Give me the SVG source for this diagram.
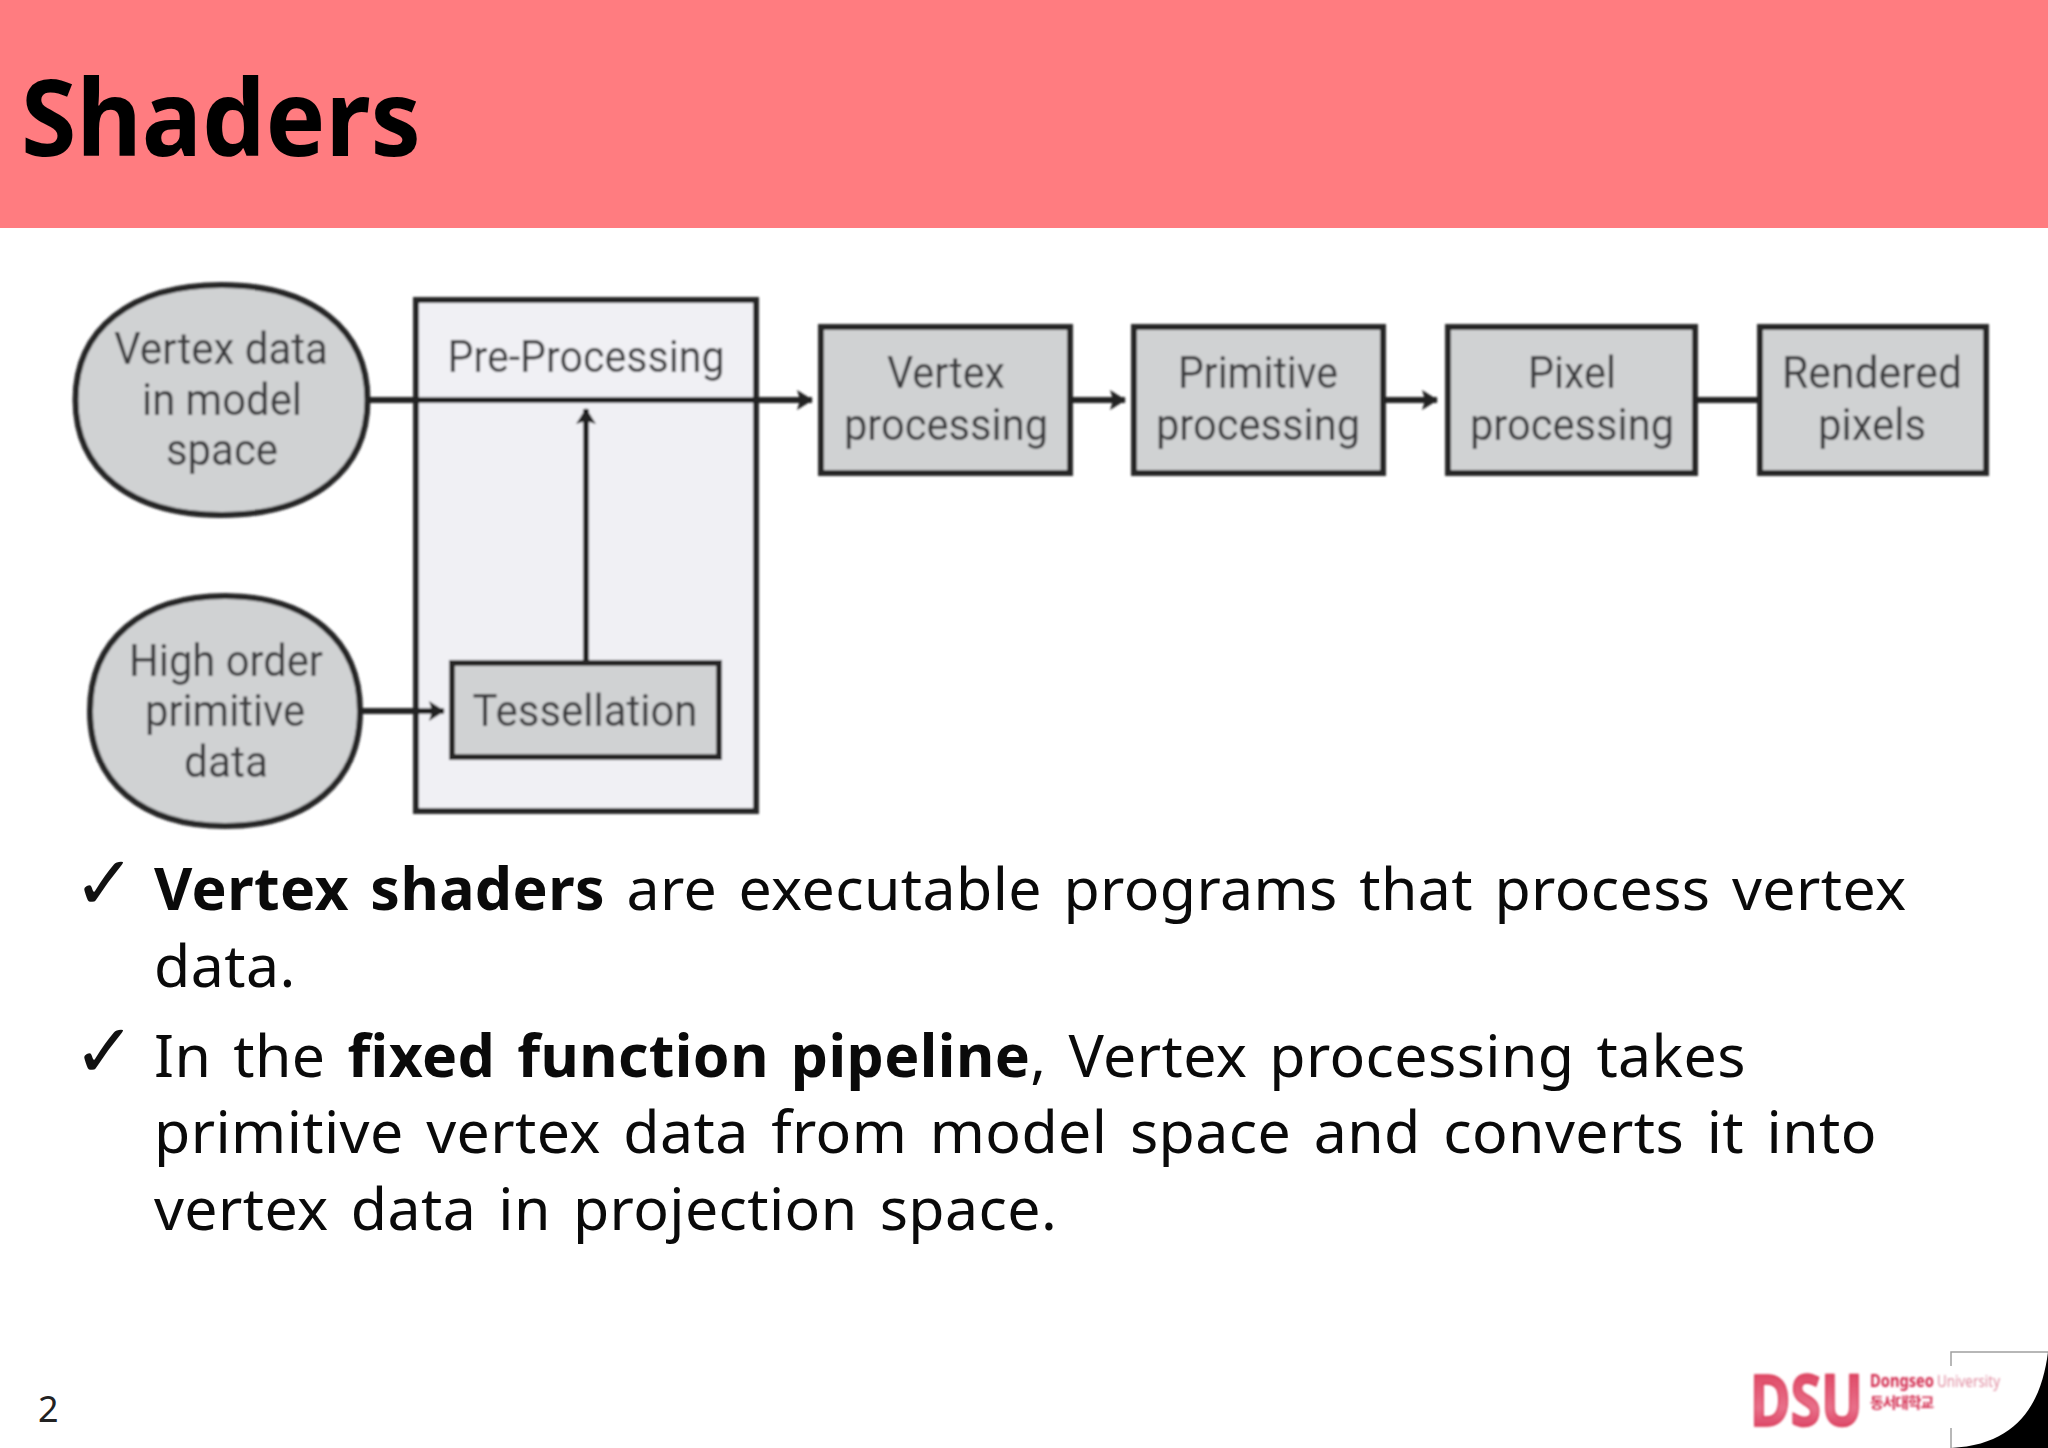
<svg xmlns="http://www.w3.org/2000/svg" width="2048" height="1448" viewBox="0 0 2048 1448">
<defs>
<style>
.shape{stroke:#262628;stroke-width:6;fill:#d0d2d3}
.lbl{font-family:Roboto,"Liberation Sans",sans-serif;font-size:45px;fill:#3a3a3c;text-anchor:middle}
.body{font-family:"Noto Sans","Noto Sans CJK KR",sans-serif;font-size:59px;fill:#0a0a0a;word-spacing:5.7px;letter-spacing:.4px}
.body .b{font-weight:700}
.chk{font-family:"DejaVu Sans",sans-serif;font-size:75px;fill:#111}
.conn{stroke:#222;stroke-width:6;fill:none}
</style>
<marker id="arrow" markerUnits="userSpaceOnUse" markerWidth="16" markerHeight="20" refX="15" refY="10" orient="auto"><path d="M0 0L16 10L0 20L3 10Z" fill="#222"/></marker>
<filter id="soft" x="-2%" y="-2%" width="104%" height="104%"><feGaussianBlur stdDeviation="0.8"/></filter>
<linearGradient id="dsu" x1="0" y1="0" x2="0" y2="1"><stop offset="0" stop-color="#d9304f"/><stop offset="0.6" stop-color="#e8708a"/><stop offset="1" stop-color="#d21e45"/></linearGradient>
</defs>
<rect width="2048" height="1448" fill="#fff"/>
<g id="header"><rect width="2048" height="228" fill="#ff7c80"/>
<text x="21" y="156" font-family="'Noto Sans','Noto Sans CJK KR',sans-serif" font-weight="700" font-size="106" fill="#000" textLength="400" lengthAdjust="spacingAndGlyphs">Shaders</text></g>
<g filter="url(#soft)">
<g id="pre-processing"><rect x="416" y="300" width="340" height="511" fill="#f0f0f4" stroke="#262628" stroke-width="6"/>
<text class="lbl" x="586" y="372" textLength="277" lengthAdjust="spacingAndGlyphs">Pre-Processing</text></g>
<g id="vertex-data"><path class="shape" d="M221.5 285C312 285 367.5 329 367.5 400C367.5 471 312 515 221.5 515C131 515 75.500 471 75.500 400C75.500 329 131 285 221.500 285Z"/>
<text class="lbl" x="221" y="364" textLength="214" lengthAdjust="spacingAndGlyphs">Vertex data</text>
<text class="lbl" x="222" y="415" textLength="160" lengthAdjust="spacingAndGlyphs">in model</text>
<text class="lbl" x="222" y="465" textLength="112" lengthAdjust="spacingAndGlyphs">space</text></g>
<g id="high-order"><path class="shape" d="M225 596C308 596 360 640 360 711C360 782 308 826 225 826C142 826 90 782 90 711C90 640 142 596 225 596Z"/>
<text class="lbl" x="226" y="676" textLength="194" lengthAdjust="spacingAndGlyphs">High order</text>
<text class="lbl" x="225" y="726" textLength="160" lengthAdjust="spacingAndGlyphs">primitive</text>
<text class="lbl" x="226" y="777" textLength="84" lengthAdjust="spacingAndGlyphs">data</text></g>
<g id="tessellation"><rect class="shape" x="452" y="663" width="267" height="94"/>
<text class="lbl" x="585" y="726" textLength="225" lengthAdjust="spacingAndGlyphs">Tessellation</text></g>
<g id="vertex-processing"><rect class="shape" x="821" y="327" width="249" height="146"/>
<text class="lbl" x="946" y="388" textLength="118" lengthAdjust="spacingAndGlyphs">Vertex</text>
<text class="lbl" x="946" y="440" textLength="204" lengthAdjust="spacingAndGlyphs">processing</text></g>
<g id="primitive-processing"><rect class="shape" x="1134" y="327" width="249" height="146"/>
<text class="lbl" x="1258" y="388" textLength="160" lengthAdjust="spacingAndGlyphs">Primitive</text>
<text class="lbl" x="1258" y="440" textLength="204" lengthAdjust="spacingAndGlyphs">processing</text></g>
<g id="pixel-processing"><rect class="shape" x="1448" y="327" width="247" height="146"/>
<text class="lbl" x="1572" y="388" textLength="88" lengthAdjust="spacingAndGlyphs">Pixel</text>
<text class="lbl" x="1572" y="440" textLength="204" lengthAdjust="spacingAndGlyphs">processing</text></g>
<g id="rendered-pixels"><rect class="shape" x="1760" y="327" width="226" height="146"/>
<text class="lbl" x="1872" y="388" textLength="180" lengthAdjust="spacingAndGlyphs">Rendered</text>
<text class="lbl" x="1872" y="440" textLength="108" lengthAdjust="spacingAndGlyphs">pixels</text></g>
<g id="connectors">
<path class="conn" marker-end="url(#arrow)" d="M368 400H812"/>
<path class="conn" marker-end="url(#arrow)" d="M586 660V409"/>
<path class="conn" marker-end="url(#arrow)" d="M360 711H444"/>
<path class="conn" marker-end="url(#arrow)" d="M1071 400H1125"/>
<path class="conn" marker-end="url(#arrow)" d="M1384 400H1437"/>
<path class="conn" d="M1695 400H1758"/>
</g>
</g>
<g id="bullets">
<text class="chk" x="73" y="909">✓</text>
<text class="chk" x="73" y="1077">✓</text>
<text class="body" x="154" y="910"><tspan class="b">Vertex shaders</tspan> are executable programs that process vertex</text>
<text class="body" x="154" y="987">data.</text>
<text class="body" x="154" y="1077" style="word-spacing:6.2px">In the <tspan class="b">fixed function pipeline</tspan>, Vertex processing takes</text>
<text class="body" x="154" y="1153" style="word-spacing:6.8px">primitive vertex data from model space and converts it into</text>
<text class="body" x="154" y="1230" style="word-spacing:6.4px">vertex data in projection space.</text>
</g>
<g id="footer">
<text x="38" y="1422" font-family="'Noto Sans',sans-serif" font-size="36" fill="#222">2</text>
<path d="M1951 1366V1352H2048" fill="none" stroke="#a0a0a0" stroke-width="1.5"/>
<path d="M1951 1428V1448" fill="none" stroke="#a0a0a0" stroke-width="1.5"/>
<path d="M2048 1352C2042 1400 2020 1445 1951 1448H2048Z" fill="#000"/>
<g filter="url(#soft)">
<text x="1750" y="1426" font-family="'Noto Sans',sans-serif" font-weight="700" font-size="72" fill="url(#dsu)" stroke="#d9304f" stroke-width="1.5" textLength="113" lengthAdjust="spacingAndGlyphs">DSU</text>
<text x="1870" y="1387" font-family="'Noto Sans',sans-serif" font-size="17" font-weight="700" fill="#d22a4e" textLength="64" lengthAdjust="spacingAndGlyphs">Dongseo</text>
<text x="1937" y="1387" font-family="'Noto Sans',sans-serif" font-size="17" fill="#e08ca0" textLength="63" lengthAdjust="spacingAndGlyphs">University</text>
<text x="1870" y="1408" font-family="'Noto Sans CJK KR',sans-serif" font-weight="700" font-size="15" fill="#d22a4e" textLength="64">동서대학교</text>
</g>
</g>
</svg>
